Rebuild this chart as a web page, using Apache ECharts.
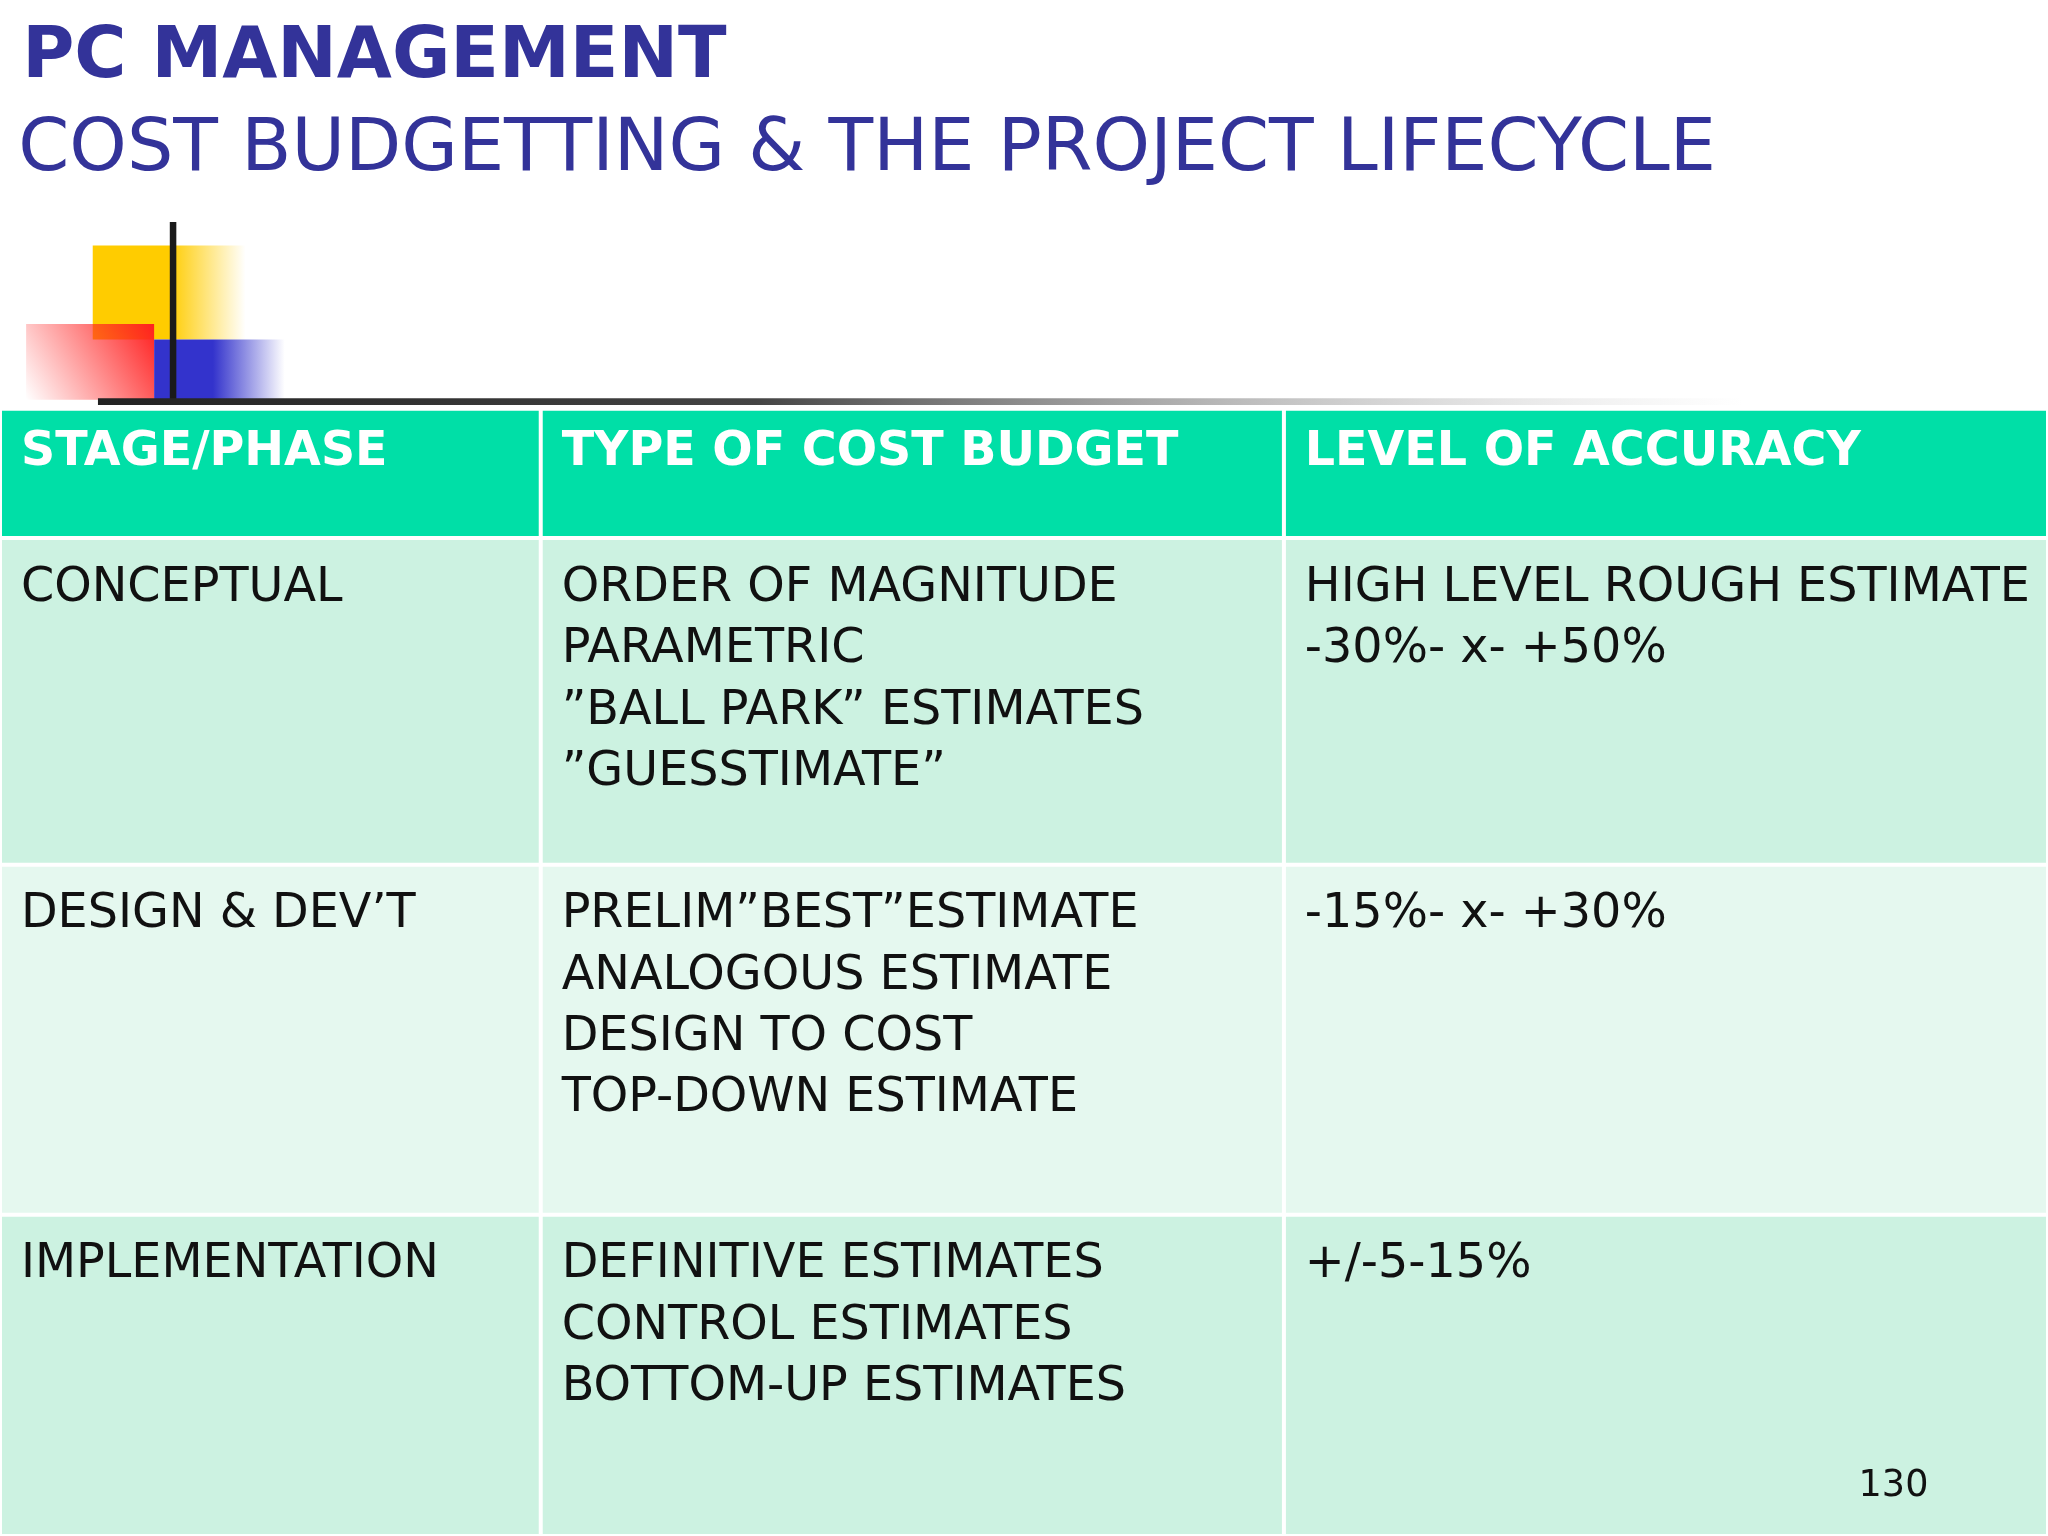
<!DOCTYPE html>
<html>
<head>
<meta charset="utf-8">
<script src="https://cdn.jsdelivr.net/npm/echarts@6/dist/echarts.min.js"></script>
<style>html,body{margin:0;padding:0;background:#fff}#main{width:2048px;height:1536px}</style>
</head>
<body>
<div id="main"></div>
<script>
var titleMain = 'PC MANAGEMENT';
var titleSub = 'COST BUDGETTING & THE PROJECT LIFECYCLE';
var headers = ['STAGE/PHASE', 'TYPE OF COST BUDGET', 'LEVEL OF ACCURACY'];
var stages = ['CONCEPTUAL', 'DESIGN & DEV\u2019T', 'IMPLEMENTATION'];
var budgetTypes = [
    ['ORDER OF MAGNITUDE', 'PARAMETRIC', '\u201DBALL PARK\u201D ESTIMATES', '\u201DGUESSTIMATE\u201D'],
    ['PRELIM\u201DBEST\u201DESTIMATE', 'ANALOGOUS ESTIMATE', 'DESIGN TO COST', 'TOP-DOWN ESTIMATE'],
    ['DEFINITIVE ESTIMATES', 'CONTROL ESTIMATES', 'BOTTOM-UP ESTIMATES']
];
var accuracy = [
    ['HIGH LEVEL ROUGH ESTIMATE', '-30%- x- +50%'],
    ['-15%- x- +30%'],
    ['+/-5-15%']
];
var pageNo = '130';

// layout in 1568-wide slide units, scaled to the 2048 canvas
var k = 2048 / 1568;
function S(v) { return v * k; }
var colX = [0, 414, 983, 1568];
var rowY = [313, 412, 662, 930, 1176];
var rowFill = ['#00DFA7', '#CCF2E1', '#E5F8EF', '#CCF2E1'];
var font = '"DejaVu Sans", Verdana, sans-serif';

var g = [];
// logo
g.push({type: 'rect', shape: {x: S(71), y: S(188), width: S(117), height: S(72)},
    style: {fill: new echarts.graphic.LinearGradient(0, 0, 1, 0, [
        {offset: 0, color: '#FFCC00'}, {offset: 0.5, color: '#FFCC00'}, {offset: 1, color: 'rgba(255,204,0,0)'}])}});
g.push({type: 'rect', shape: {x: S(20), y: S(248), width: S(98), height: S(58)},
    style: {fill: new echarts.graphic.LinearGradient(1, 0, 0, 1, [
        {offset: 0, color: '#FF2020'}, {offset: 1, color: 'rgba(255,40,40,0)'}])}});
g.push({type: 'rect', shape: {x: S(118), y: S(260), width: S(100), height: S(46)},
    style: {fill: new echarts.graphic.LinearGradient(0, 0, 1, 0, [
        {offset: 0, color: '#3333CC'}, {offset: 0.45, color: '#3333CC'}, {offset: 1, color: 'rgba(51,51,204,0)'}])}});
g.push({type: 'rect', shape: {x: S(130), y: S(170), width: S(5), height: S(140)}, style: {fill: '#1a1a1a'}});
g.push({type: 'rect', shape: {x: S(75), y: S(305), width: S(1260), height: S(5)},
    style: {fill: new echarts.graphic.LinearGradient(0, 0, 1, 0, [
        {offset: 0, color: '#222'}, {offset: 0.4, color: '#444'}, {offset: 1, color: 'rgba(180,180,180,0)'}])}});
// titles
g.push({type: 'text', x: S(17), y: S(18), style: {text: titleMain, fill: '#333399', font: 'bold ' + S(54.5) + 'px ' + font}});
g.push({type: 'text', x: S(14), y: S(88), style: {text: titleSub, fill: '#333399', font: S(56) + 'px ' + font}});

// table cells
for (var r = 0; r < 4; r++) {
    for (var c = 0; c < 3; c++) {
        g.push({type: 'rect', shape: {x: S(colX[c]) + 2, y: S(rowY[r]) + 2,
            width: S(colX[c + 1] - colX[c]) - 4, height: S(rowY[r + 1] - rowY[r]) - 4},
            style: {fill: rowFill[r]}});
    }
}
headers.forEach(function (h, c) {
    g.push({type: 'text', x: S(colX[c] + 16), y: S(328), style: {text: h, fill: '#fff', font: 'bold ' + S(36.4) + 'px ' + font}});
});
function cellText(lines, c, r) {
    g.push({type: 'text', x: S(colX[c] + 16), y: S(rowY[r + 1] + 15),
        style: {text: lines.join('\n'), fill: '#111', font: S(36.5) + 'px ' + font, lineHeight: S(47)}});
}
for (var i = 0; i < stages.length; i++) {
    cellText([stages[i]], 0, i);
    cellText(budgetTypes[i], 1, i);
    cellText(accuracy[i], 2, i);
}
g.push({type: 'text', x: S(1423), y: S(1124), style: {text: pageNo, fill: '#111', font: S(28) + 'px ' + font}});

var chart = echarts.init(document.getElementById('main'));
chart.setOption({backgroundColor: '#fff', animation: false, graphic: g});
</script>
</body>
</html>
